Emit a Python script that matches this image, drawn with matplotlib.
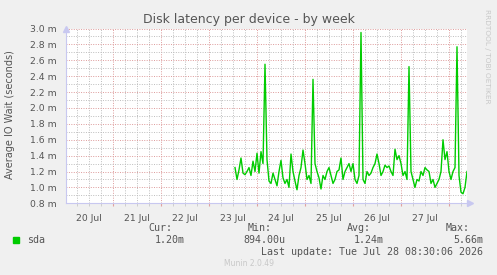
import numpy as np
import matplotlib.pyplot as plt
from matplotlib.ticker import MultipleLocator, FixedLocator

# hourly samples, first one at 23 Jul 13:00 (hours counted from 20 Jul 00:00)
start_hour = 85
latency_ms = [
    1.25, 1.10, 1.22, 1.37, 1.18, 1.16, 1.20, 1.25, 1.15, 1.33, 1.20, 1.43,
    1.18, 1.45, 1.30, 2.55, 1.35, 1.08, 1.05, 1.18, 1.10, 1.02, 1.20, 1.34,
    1.12, 1.05, 1.10, 1.00, 1.42, 1.20, 1.08, 0.97, 1.15, 1.25, 1.47, 1.30,
    1.10, 1.15, 1.05, 2.36, 1.30, 1.20, 1.12, 0.98, 1.15, 1.10, 1.20, 1.25,
    1.15, 1.05, 1.10, 1.20, 1.22, 1.37, 1.10, 1.20, 1.25, 1.30, 1.20, 1.30,
    1.10, 1.05, 1.15, 2.95, 1.10, 1.05, 1.20, 1.15, 1.18, 1.25, 1.30, 1.42,
    1.30, 1.15, 1.20, 1.28, 1.25, 1.27, 1.20, 1.15, 1.48, 1.35, 1.40, 1.30,
    1.15, 1.20, 1.10, 2.52, 1.20, 1.10, 1.00, 1.10, 1.08, 1.20, 1.15, 1.25,
    1.22, 1.20, 1.05, 1.10, 1.00, 1.05, 1.10, 1.20, 1.60, 1.35, 1.45, 1.20,
    1.10, 1.20, 1.25, 2.77, 1.15, 0.94, 0.92, 1.00, 1.20,
]
day_labels = ["20 Jul", "21 Jul", "22 Jul", "23 Jul", "24 Jul", "25 Jul", "26 Jul", "27 Jul"]
legend_cols = ["Cur:", "Min:", "Avg:", "Max:"]
legend_vals = ["1.20m", "894.00u", "1.24m", "5.66m"]

hours = start_hour + np.arange(len(latency_ms))

fig = plt.figure(figsize=(4.97, 2.75), dpi=100, facecolor="#f0f0f0")
ax = fig.add_axes([66 / 497, 1 - 203.3 / 275, 401 / 497, 174.8 / 275])
ax.set_facecolor("white")

ax.plot(hours, latency_ms, color="#00cc00", linewidth=1.0, zorder=3)

ax.set_xlim(0.5, 201)
ax.set_ylim(0.8, 3.0)

# grid: minor grey, major red, dotted like rrdtool
ax.xaxis.set_major_locator(MultipleLocator(24))
ax.xaxis.set_minor_locator(MultipleLocator(6))
ax.yaxis.set_major_locator(MultipleLocator(0.2))
ax.yaxis.set_minor_locator(MultipleLocator(0.1))
ax.grid(which="minor", color="#bdbdbd", linestyle=(0, (1, 1.5)), linewidth=0.7)
ax.grid(which="major", color="#dd9a9a", linestyle=(0, (1, 1.5)), linewidth=0.7)
ax.set_axisbelow(True)

ax.set_xticklabels([])
ax.tick_params(axis="x", which="both", length=2, color="#c8c8c8")
ax.tick_params(axis="y", which="both", length=0)
ax.tick_params(axis="x", which="major", color="#e0a0a0")

yt = np.arange(0.8, 3.01, 0.2)
ax.yaxis.set_major_locator(FixedLocator(yt))
ax.set_yticklabels([f"{v:.1f} m" for v in yt], fontsize=6.7, color="#555555")
ax.tick_params(axis="y", pad=7)

for i, lab in enumerate(day_labels):
    ax.text(12 + 24 * i, -0.06, lab, transform=ax.get_xaxis_transform(),
            ha="center", va="top", fontsize=6.7, color="#555555")

for s in ["top", "right"]:
    ax.spines[s].set_visible(False)
for s in ["left", "bottom"]:
    ax.spines[s].set_color("#c8c8f0")
    ax.spines[s].set_linewidth(0.8)
ax.plot([0], [1.0], marker="^", markersize=4, color="#c8c8f0",
        transform=ax.transAxes, clip_on=False)
ax.plot([1.007], [0], marker=">", markersize=4, color="#c8c8f0",
        transform=ax.transAxes, clip_on=False)

fig.text(0.5, 1 - 19 / 275, "Disk latency per device - by week",
         ha="center", va="center", fontsize=9, color="#555555")
fig.text(10 / 497, 1 - 115 / 275, "Average IO Wait (seconds)", rotation=90,
         ha="center", va="center", fontsize=7, color="#555555")
fig.text(487 / 497, 1 - 56 / 275, "RRDTOOL / TOBI OETIKER", rotation=270,
         ha="center", va="center", fontsize=5.3, color="#c8c8c8")

mono = "DejaVu Sans Mono"
fig.patches.append(plt.Rectangle((13 / 497, 1 - 243 / 275), 6 / 497, 6 / 275,
                                 transform=fig.transFigure, color="#00cc00"))
fig.text(27 / 497, 1 - 240 / 275, "sda", family=mono, fontsize=7.2,
         color="#555555", va="center")
head_x = [172, 272, 371, 470]
val_x = [185, 285, 384, 483]
for hx, vx, h, v in zip(head_x, val_x, legend_cols, legend_vals):
    fig.text(hx / 497, 1 - 228 / 275, h, family=mono, fontsize=7.2,
             color="#555555", ha="right", va="center")
    fig.text(vx / 497, 1 - 240 / 275, v, family=mono, fontsize=7.2,
             color="#555555", ha="right", va="center")
fig.text(483 / 497, 1 - 252 / 275, "Last update: Tue Jul 28 08:30:06 2026",
         family=mono, fontsize=7.2, color="#555555", ha="right", va="center")
fig.text(0.5, 1 - 264 / 275, "Munin 2.0.49", fontsize=5.5, color="#c8c8c8",
         ha="center", va="center")

fig.savefig("out.png", dpi=100, facecolor=fig.get_facecolor())
